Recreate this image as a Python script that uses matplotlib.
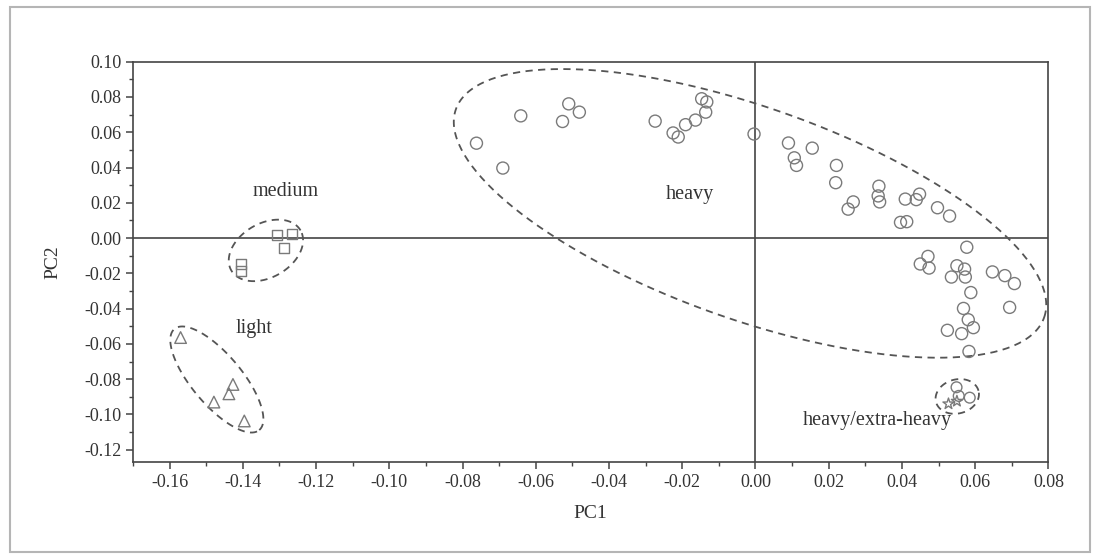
#!/usr/bin/env python3

import numpy as np
import matplotlib
matplotlib.use("Agg")
import matplotlib.pyplot as plt
from matplotlib.patches import Rectangle
from matplotlib.ticker import MultipleLocator, FormatStrFormatter

# ----------------------------
# Data (PC scores)
# ----------------------------
heavy_pc1 = [-0.0762, -0.0690, -0.0641, -0.0510, -0.0527, -0.0481, -0.0274, -0.0225,
             -0.0211, -0.0191, -0.0164, -0.0136, -0.0147, -0.0133, -0.0004,
             0.0090, 0.0155, 0.0106, 0.0112, 0.0221, 0.0219, 0.0267, 0.0253,
             0.0337, 0.0335, 0.0339, 0.0409, 0.0439, 0.0448, 0.0497, 0.0530,
             0.0396, 0.0413, 0.0577, 0.0471, 0.0450, 0.0474, 0.0550, 0.0571,
             0.0535, 0.0573, 0.0647, 0.0681, 0.0707, 0.0588, 0.0568, 0.0694,
             0.0581, 0.0595, 0.0524, 0.0563, 0.0583]
heavy_pc2 = [0.0538, 0.0397, 0.0693, 0.0761, 0.0661, 0.0714, 0.0663, 0.0596,
             0.0573, 0.0643, 0.0669, 0.0714, 0.0790, 0.0772, 0.0590,
             0.0539, 0.0510, 0.0455, 0.0412, 0.0412, 0.0314, 0.0205, 0.0164,
             0.0294, 0.0239, 0.0205, 0.0221, 0.0218, 0.0249, 0.0172, 0.0125,
             0.0089, 0.0093, -0.0052, -0.0104, -0.0147, -0.0170, -0.0157, -0.0176,
             -0.0221, -0.0221, -0.0192, -0.0213, -0.0258, -0.0309, -0.0399, -0.0393,
             -0.0463, -0.0508, -0.0523, -0.0542, -0.0643]

xheavy_pc1 = [0.0549, 0.0555, 0.0585]
xheavy_pc2 = [-0.0846, -0.0895, -0.0905]

extra_pc1 = [0.0527, 0.0550]
extra_pc2 = [-0.0940, -0.0925]

medium_pc1 = [-0.1307, -0.1266, -0.1287, -0.1405, -0.1405]
medium_pc2 = [0.0018, 0.0024, -0.0057, -0.0148, -0.0189]

light_pc1 = [-0.1570, -0.1479, -0.1438, -0.1427, -0.1396]
light_pc2 = [-0.0564, -0.0930, -0.0883, -0.0830, -0.1037]

# group labels: text, pc1, pc2
labels = ["medium", "light", "heavy", "heavy/extra-heavy"]
label_pc1 = [-0.1282, -0.1370, -0.0178, 0.0334]
label_pc2 = [0.0262, -0.0510, 0.0245, -0.1033]

# ----------------------------
# Style
# ----------------------------
plt.rcParams["font.family"] = ["Liberation Serif", "DejaVu Serif"]
EDGE = "#7a7a7a"
TEXT = "#333333"
XLIM = (-0.17, 0.08)
YLIM = (-0.127, 0.10)


def draw_ellipse(ax, cx, cy, a_px, b_px, angle_deg):
    # ellipse given in screen pixels, drawn through the data transform
    t = np.linspace(0, 2 * np.pi, 300)
    th = np.deg2rad(angle_deg)
    dx = a_px * np.cos(t) * np.cos(th) - b_px * np.sin(t) * np.sin(th)
    dy = a_px * np.cos(t) * np.sin(th) + b_px * np.sin(t) * np.cos(th)
    cx_px, cy_px = ax.transData.transform((cx, cy))
    pts = np.column_stack([cx_px + dx, cy_px + dy])
    data = ax.transData.inverted().transform(pts)
    ax.plot(data[:, 0], data[:, 1], ls=(0, (4, 3)), color="#555555", lw=1.3,
            zorder=2)


fig = plt.figure(figsize=(10.99, 5.56), dpi=100)
ax = fig.add_axes([0.121, 0.169, 0.833, 0.720])
ax.set_xlim(*XLIM)
ax.set_ylim(*YLIM)

# frame around the whole picture
fig.patches.append(Rectangle((0.009, 0.008), 0.983, 0.979, transform=fig.transFigure,
                             fill=False, edgecolor="#b5b5b5", lw=1.5, zorder=0))

ax.axhline(0, color="#444444", lw=1.2, zorder=1)
ax.axvline(0, color="#444444", lw=1.2, zorder=1)

mk = dict(facecolor="none", edgecolors=EDGE, linewidths=1.0, zorder=3)
ax.scatter(heavy_pc1, heavy_pc2, marker="o", s=75, **mk)
ax.scatter(xheavy_pc1, xheavy_pc2, marker="o", s=60, **mk)
ax.scatter(extra_pc1, extra_pc2, marker="*", s=70, **mk)
ax.scatter(medium_pc1, medium_pc2, marker="s", s=50, **mk)
ax.scatter(light_pc1, light_pc2, marker="^", s=70, **mk)

fig.canvas.draw()
draw_ellipse(ax, -0.0015, 0.0140, 312, 106, -19.5)
draw_ellipse(ax, -0.1337, -0.0070, 40, 27, 30)
draw_ellipse(ax, -0.1471, -0.0802, 66, 25, -50)
draw_ellipse(ax, 0.0551, -0.0898, 22, 17, 15)
ax.set_xlim(*XLIM)
ax.set_ylim(*YLIM)

for txt, x, y in zip(labels, label_pc1, label_pc2):
    ax.text(x, y, txt, ha="center", va="center", fontsize=14.5, color=TEXT)

ax.xaxis.set_major_locator(MultipleLocator(0.02))
ax.xaxis.set_minor_locator(MultipleLocator(0.01))
ax.yaxis.set_major_locator(MultipleLocator(0.02))
ax.yaxis.set_minor_locator(MultipleLocator(0.01))
ax.xaxis.set_major_formatter(FormatStrFormatter("%.2f"))
ax.yaxis.set_major_formatter(FormatStrFormatter("%.2f"))
ax.tick_params(which="major", direction="out", length=5, width=1.1,
               labelsize=13, colors="#444444", labelcolor=TEXT)
ax.tick_params(which="minor", direction="out", length=3, width=1.0,
               colors="#444444")

for s in ax.spines.values():
    s.set_color("#444444")
    s.set_linewidth(1.2)

ax.set_xlabel("PC1", fontsize=14, color=TEXT, labelpad=10)
ax.set_ylabel("PC2", fontsize=14, color=TEXT, labelpad=16)

fig.savefig("out.png", dpi=100)
